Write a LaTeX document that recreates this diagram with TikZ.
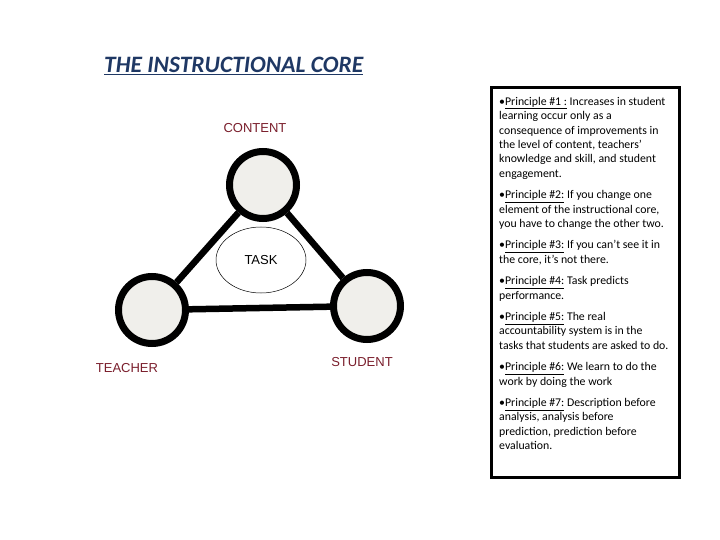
\documentclass[tikz,border=0pt]{standalone}
\usepackage{fontspec}
\setmainfont{Carlito}
\newfontfamily\labelfont{Liberation Sans}
\usepackage{tikz}
\usetikzlibrary{shapes.geometric,positioning}
\definecolor{titleblue}{HTML}{1F3864}
\definecolor{labelred}{HTML}{7A1E2C}
\definecolor{coregrey}{HTML}{F0EFEB}
\tikzset{
  core/.style={draw, circle, line width=7pt, fill=coregrey, minimum size=67pt, inner sep=0pt},
  corelink/.style={line width=6.5pt},
  corelabel/.style={font=\labelfont\fontsize{13}{15}\selectfont, text=labelred, inner sep=0pt},
  taskbox/.style={draw, ellipse, line width=0.5pt, minimum width=90pt, minimum height=66pt, inner sep=0pt},
  princbox/.style={draw, line width=3pt}
}
\newcommand{\princ}[1]{\textbullet\underline{Principle \##1:}}

\begin{document}
\begin{tikzpicture}[x=1pt,y=-1pt]
\useasboundingbox (0,0) rectangle (720,540);

% title
\node (title) [font=\fontsize{23.5}{28}\selectfont\bfseries\itshape, text=titleblue, anchor=west, inner sep=0pt]
  at (104,66) {\underline{THE INSTRUCTIONAL CORE}};

% the core triangle
\node (content) [core] at (263,185) {};
\node (teacher) [core] at (152,310) {};
\node (student) [core] at (367,306) {};
\draw[corelink] (content) -- (teacher);
\draw[corelink] (content) -- (student);
\draw[corelink] (teacher) -- (student);
\node (task) [taskbox] at (261,260) {};

\node (contentlbl) [corelabel] at (255,128) {CONTENT};
\node (teacherlbl) [corelabel] at (127,368) {TEACHER};
\node (studentlbl) [corelabel] at (362,362) {STUDENT};
\node (tasklbl) [corelabel, text=black] at (261,260) {TASK};

% principles
\draw[princbox] (491,88) rectangle (679,477);
\node (principles) [anchor=north west, align=left, inner sep=0pt,
  font=\fontsize{11.8}{14.4}\selectfont] at (499,97) {%
  \princ{1 } Increases in student\\
  learning occur only as a\\
  consequence of improvements in\\
  the level of content, teachers'\\
  knowledge and skill, and student\\
  engagement.\\[7pt]
  \princ{2} If you change one\\
  element of the instructional core,\\
  you have to change the other two.\\[7pt]
  \princ{3} If you can't see it in\\
  the core, it's not there.\\[7pt]
  \princ{4} Task predicts\\
  performance.\\[7pt]
  \princ{5} The real\\
  accountability system is in the\\
  tasks that students are asked to do.\\[7pt]
  \princ{6} We learn to do the\\
  work by doing the work\\[7pt]
  \princ{7} Description before\\
  analysis, analysis before\\
  prediction, prediction before\\
  evaluation.};
\end{tikzpicture}
\end{document}
